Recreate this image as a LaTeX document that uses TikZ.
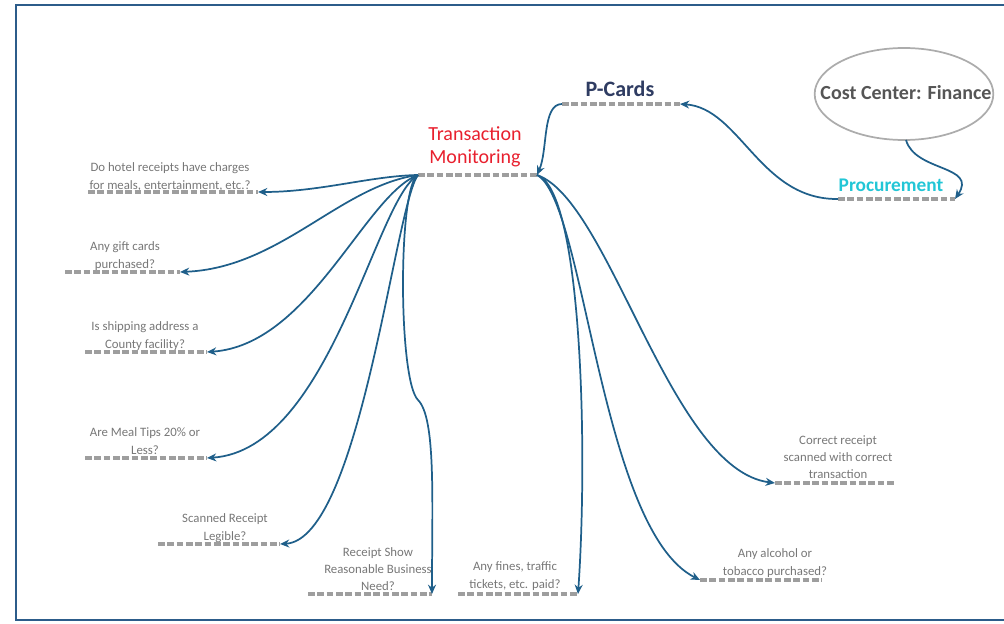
\documentclass[tikz,border=0pt]{standalone}
\usepackage{fontspec}
\setmainfont{Carlito}
\usetikzlibrary{arrows.meta}

\definecolor{framecol}{HTML}{2C5C8A}
\definecolor{linkcol}{HTML}{1F5F8A}
\definecolor{dashcol}{HTML}{9E9E9E}
\definecolor{labelcol}{HTML}{777777}
\definecolor{pcardcol}{HTML}{2F3C62}
\definecolor{tmcol}{HTML}{E8202E}
\definecolor{proccol}{HTML}{22C6D6}
\definecolor{cccol}{HTML}{555555}

\begin{document}
\begin{tikzpicture}[x=0.75pt,y=-0.75pt,
  underline/.style={draw=dashcol, line width=2.8pt, dash pattern=on 5pt off 2pt},
  qlabel/.style={text=labelcol, font=\fontsize{9.6}{13}\selectfont, align=center, inner sep=0pt},
  link/.style={draw=linkcol, line width=1.3pt, -{Stealth[length=7pt,width=6pt]}},
  hub/.style={font=\fontsize{15}{17}\selectfont, align=center, inner sep=0pt}]

\useasboundingbox (0,0) rectangle (1004,624);
\draw[framecol, line width=1.6pt] (16,5) rectangle (1015,620);

% cost center
\node[font=\bfseries\fontsize{15}{17}\selectfont, text=cccol, inner sep=0pt] (cc) at (906,93) {Cost Center: Finance};
\draw[gray!65, line width=1.3pt] (904,94) ellipse [x radius=67pt, y radius=34.5pt];
\coordinate (ccB) at (906,140);

% hubs and their underlines
\node[hub, font=\bfseries\fontsize{14.5}{17}\selectfont, text=proccol] (proc) at (891,185) {Procurement};
\coordinate (procL) at (838,199); \coordinate (procR) at (955,199);
\draw[underline] (procL) -- (procR);

\node[hub, font=\bfseries\fontsize{16.5}{19}\selectfont, text=pcardcol] (pc) at (620,89) {P-Cards};
\coordinate (pcL) at (562,104); \coordinate (pcR) at (680,104);
\draw[underline] (pcL) -- (pcR);

\node[hub, text=tmcol] (tm) at (475,147) {Transaction\\Monitoring};
\coordinate (tmL) at (418,175); \coordinate (tmR) at (537,175);
\draw[underline] (tmL) -- (tmR);

% question labels
\node[qlabel] (q1) at (170,177) {Do hotel receipts have charges\\for meals, entertainment, etc.?};
\coordinate (q1L) at (88,192); \coordinate (q1R) at (258,192);
\node[qlabel] (q2) at (125,256) {Any gift cards\\purchased?};
\coordinate (q2L) at (65,272); \coordinate (q2R) at (180,272);
\node[qlabel] (q3) at (145,336) {Is shipping address a\\County facility?};
\coordinate (q3L) at (85,352); \coordinate (q3R) at (207,352);
\node[qlabel] (q4) at (145,441) {Are Meal Tips 20\% or\\Less?};
\coordinate (q4L) at (85,458); \coordinate (q4R) at (207,458);
\node[qlabel] (q5) at (225,528) {Scanned Receipt\\Legible?};
\coordinate (q5L) at (158,544); \coordinate (q5R) at (280,544);
\node[qlabel] (q6) at (378,569) {Receipt Show\\Reasonable Business\\Need?};
\coordinate (q6L) at (308,594); \coordinate (q6R) at (432,594);
\node[qlabel] (q7) at (515,576) {Any fines, traffic\\tickets, etc. paid?};
\coordinate (q7L) at (458,594); \coordinate (q7R) at (578,594);
\node[qlabel] (q8) at (775,563) {Any alcohol or\\tobacco purchased?};
\coordinate (q8L) at (700,580); \coordinate (q8R) at (822,580);
\node[qlabel] (q9) at (838,457) {Correct receipt\\scanned with correct\\transaction};
\coordinate (q9L) at (775,483); \coordinate (q9R) at (895,483);

\foreach \q in {q1,q2,q3,q4,q5,q6,q7,q8,q9}
  \draw[underline] (\q L) -- (\q R);

% connectors
\draw[link] (ccB) .. controls (915,172) and (978,165) .. (procR);
\draw[link] (procL) .. controls (760,200) and (740,108) .. (pcR);
\draw[link] (pcL) .. controls (542,104) and (548,150) .. (tmR);

\draw[link] (tmL) .. controls (370,176) and (320,192) .. (q1R);
\draw[link] (tmL) .. controls (340,186) and (280,268) .. (q2R);
\draw[link] (tmL) .. controls (365,195) and (310,345) .. (q3R);
\draw[link] (tmL) .. controls (375,200) and (330,450) .. (q4R);
\draw[link] (tmL) .. controls (395,205) and (360,540) .. (q5R);
\draw[link] (tmL) .. controls (398,185) and (398,380) .. (418,400)
                  .. controls (436,418) and (432,500) .. (q6R);

\draw[link] (tmR) .. controls (582,190) and (588,450) .. (q7R);
\draw[link] (tmR) .. controls (585,200) and (600,530) .. (q8L);
\draw[link] (tmR) .. controls (610,200) and (670,470) .. (q9L);
\end{tikzpicture}
\end{document}
